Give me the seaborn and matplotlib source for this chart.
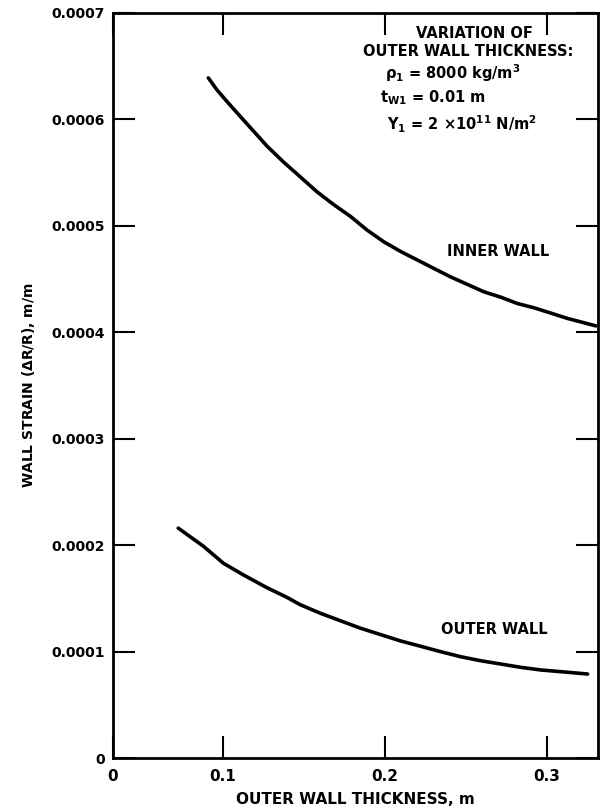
import matplotlib
matplotlib.use("Agg")
import matplotlib.pyplot as plt
import seaborn as sns
import pandas as pd

# ---- data ----
inner_x = [0.0909, 0.0961, 0.1023, 0.1105, 0.1188, 0.1271, 0.1373, 0.1477, 0.1580,
           0.1683, 0.1786, 0.1890, 0.1993, 0.2096, 0.2199, 0.2302, 0.2406, 0.2509,
           0.2612, 0.2715, 0.2819, 0.2921, 0.3025, 0.3128, 0.3303]
inner_y = [0.000639, 0.000628, 0.000617, 0.000603, 0.000589, 0.000575, 0.000560, 0.000546,
           0.000532, 0.000520, 0.000509, 0.000496, 0.000485, 0.000476, 0.000468, 0.000460,
           0.000452, 0.000445, 0.000438, 0.000433, 0.000427, 0.000423, 0.000418, 0.000413,
           0.000406]
outer_x = [0.0723, 0.0796, 0.0878, 0.1002, 0.1126, 0.1271, 0.1394, 0.1477, 0.1601, 0.1724,
           0.1848, 0.1972, 0.2096, 0.2220, 0.2344, 0.2467, 0.2591, 0.2715, 0.2839, 0.2963,
           0.3087, 0.3252]
outer_y = [0.000216, 0.000208, 0.000199, 0.000183, 0.000172, 0.000160, 0.000151, 0.000144,
           0.000136, 0.000129, 0.000122, 0.000116, 0.000110, 0.000105, 0.0000999, 0.0000952,
           0.0000914, 0.0000883, 0.0000852, 0.0000827, 0.0000811, 0.0000789]

x_ticks = [0.032, 0.1, 0.2, 0.3]
x_tick_labels = ["0", "0.1", "0.2", "0.3"]
y_ticks = [0, 0.0001, 0.0002, 0.0003, 0.0004, 0.0005, 0.0006, 0.0007]
y_tick_labels = ["0", "0.0001", "0.0002", "0.0003", "0.0004", "0.0005", "0.0006", "0.0007"]

df = pd.concat([
    pd.DataFrame({"x": inner_x, "y": inner_y, "wall": "INNER WALL"}),
    pd.DataFrame({"x": outer_x, "y": outer_y, "wall": "OUTER WALL"}),
])

sns.set_theme(style="ticks")
plt.rcParams["font.family"] = ["DejaVu Sans"]
plt.rcParams["font.weight"] = "bold"
plt.rcParams["mathtext.default"] = "bf"
for k in ["text.color", "axes.labelcolor", "xtick.color", "ytick.color", "axes.edgecolor"]:
    plt.rcParams[k] = "black"

fig = plt.figure(figsize=(6.05, 8.10), dpi=100)
ax = fig.add_axes([113 / 605, 1 - 758 / 810, 485 / 605, 745 / 810])

sns.lineplot(data=df, x="x", y="y", units="wall", estimator=None,
             color="black", linewidth=2.6, ax=ax, sort=True)

ax.set_xlim(0.032, 0.3316)
ax.set_ylim(0, 0.0007)
ax.set_xticks(x_ticks)
ax.set_xticklabels(x_tick_labels, fontsize=11, fontweight="bold")
ax.set_yticks(y_ticks)
ax.set_yticklabels(y_tick_labels, fontsize=10, fontweight="bold")
ax.tick_params(direction="in", length=16, width=1.5, top=True, right=True,
               labeltop=False, labelright=False, pad=6)
ax.tick_params(axis="x", pad=8)
for s in ax.spines.values():
    s.set_linewidth(2.0)

ax.set_xlabel("OUTER WALL THICKNESS, m", fontsize=11, fontweight="bold", labelpad=6)
ax.set_ylabel(r"WALL STRAIN ($\Delta$R/R), m/m", fontsize=10, fontweight="bold", labelpad=10)

# curve labels
ax.text(0.2697, 0.0004756, "INNER WALL", ha="center", va="center", fontsize=10.5, fontweight="bold")
ax.text(0.2678, 0.0001212, "OUTER WALL", ha="center", va="center", fontsize=10.5, fontweight="bold")

# parameter block
tr = ax.transAxes
ax.text(0.746, 0.973, "VARIATION OF", transform=tr, ha="center", va="center", fontsize=10.5, fontweight="bold")
ax.text(0.732, 0.948, "OUTER WALL THICKNESS:", transform=tr, ha="center", va="center", fontsize=10.5, fontweight="bold")
ax.text(0.561, 0.919, r"$\rho_1$ = 8000 kg/m$^3$", transform=tr, ha="left", va="center", fontsize=10.5, fontweight="bold")
ax.text(0.551, 0.886, r"t$_{W1}$ = 0.01 m", transform=tr, ha="left", va="center", fontsize=10.5, fontweight="bold")
ax.text(0.565, 0.850, r"Y$_1$ = 2 $\times$10$^{11}$ N/m$^2$", transform=tr, ha="left", va="center", fontsize=10.5, fontweight="bold")

fig.savefig("out.png", dpi=100, facecolor="white")
